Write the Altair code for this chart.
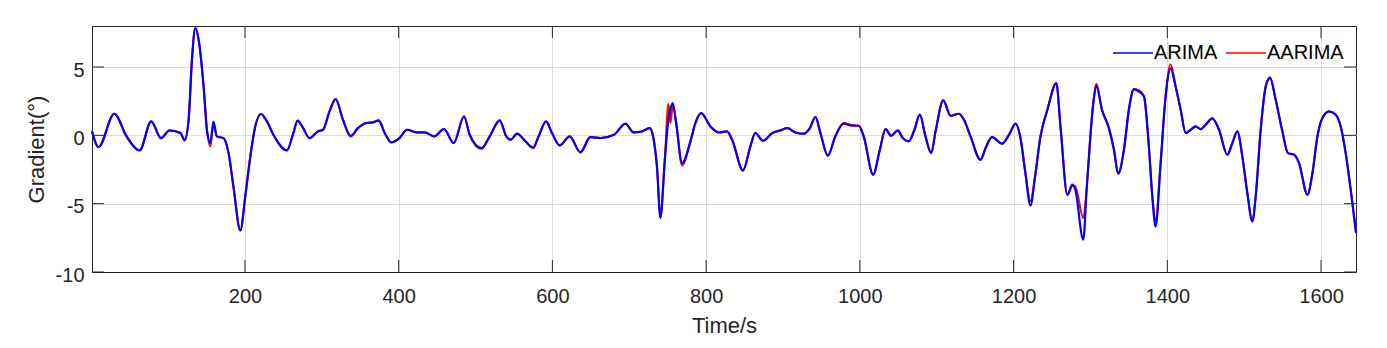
import altair as alt
import pandas as pd

# ---- data ----
time = [1, 9.5, 30, 46, 63, 78, 90.7, 102, 116, 121.5, 126.7, 131, 135.4, 139.7, 146.2, 150.5, 155, 159, 163.5, 172,
        178.7, 185, 194, 200.4, 207, 213.4, 220.8, 228.6, 237, 254.6, 263, 268.5, 275, 284, 295, 301.5, 310, 318, 327.5,
        337.5, 347, 358, 366.6, 374, 381.8, 390.4, 401, 411, 423, 434, 446, 459, 471.6, 485, 492.4, 507.6, 518.4, 531.4,
        540, 545.8, 554, 565, 575, 582, 591.7, 599.5, 609.5, 622.5, 636.4, 649.4, 662.4, 680, 695, 705.8, 716.7, 726.6,
        731, 736, 740.5, 746, 751, 753.5, 756.6, 761, 768.7, 779.6, 786, 793.5, 805.6, 816.5, 827, 833.8, 848, 857.6, 864,
        874, 886, 896.7, 905.4, 916.2, 927, 935, 942.2, 948.7, 958.3, 968, 979, 990, 998.6, 1005, 1017.3, 1026, 1033.4,
        1040.7, 1049.4, 1055, 1063.7, 1071, 1078, 1085.4, 1092.8, 1098.5, 1108.5, 1118, 1129, 1135.4, 1144, 1157, 1163.6,
        1172, 1185, 1194, 1202.6, 1209, 1215, 1222, 1228, 1235, 1244, 1255.6, 1261, 1270, 1276.4, 1280, 1290.7, 1295,
        1300, 1304, 1307.6, 1315, 1324, 1330.6, 1336, 1343.6, 1350, 1356.6, 1363, 1369.6, 1376, 1380.5, 1384.8, 1391.3,
        1397.8, 1404.3, 1410.8, 1417.4, 1423.9, 1430.4, 1436.9, 1443.4, 1449.9, 1458.6, 1467.3, 1478.1, 1484.6, 1491.1,
        1497.6, 1504.1, 1510.7, 1515, 1521.5, 1528, 1533.7, 1541, 1549.7, 1557, 1565, 1571.4, 1582.3, 1588.8, 1595.3,
        1601.8, 1610.5, 1619.1, 1625.6, 1632.1, 1638.6, 1645.5]

arima = [0.3, -0.86, 1.58, -0.08, -1.1, 1.02, -0.2, 0.36, 0.17, -0.32, 1.14, 5.5, 7.85, 7.0, 3.58, 0.41, -0.57, 1.0, -0.08, -0.2,
         -1.3, -3.74, -6.96, -4.47, -1.54, 0.65, 1.56, 1.02, 0.04, -1.1, 0.17, 1.07, 0.6, -0.2, 0.29, 0.41, 1.75, 2.65, 1.14,
         -0.03, 0.53, 0.9, 0.95, 1.09, 0.17, -0.52, -0.2, 0.41, 0.21, 0.21, -0.08, 0.46, -0.57, 1.38, 0.04, -0.93, -0.08, 1.09,
         -0.08, -0.32, 0.12, -0.44, -0.88, -0.08, 1.02, 0.17, -0.74, -0.08, -1.25, -0.13, -0.2, 0.04, 0.85, 0.21, 0.29, 0.53,
         -0.08, -2.27, -6.05, -2.0, 1.2, 1.9, 2.36, 0.9, -2.03, -0.44, 0.9, 1.63, 0.65, 0.21, 0.29, -0.32, -2.57, -0.81, 0.17,
         -0.4, 0.17, 0.36, 0.53, 0.21, 0.12, 0.53, 1.34, 0.17, -1.49, -0.08, 0.85, 0.7, 0.7, -0.08, -2.88, -1.05, 0.46,
         -0.03, 0.36, -0.13, -0.44, 0.41, 1.51, -0.08, -1.3, 0.29, 2.56, 1.43, 1.58, 1.14, -0.08, -1.79, -0.93,
         -0.13, -0.61, 0.04, 0.85, -0.2, -2.6, -5.13, -3.0, -0.08, 1.87, 3.82, 0.65, -4.35, -3.6, -3.9, -7.64, -4.0,
         0.0, 2.5, 3.63, 1.87, 0.53, -1.05, -2.8, -1.05, 1.87, 3.38, 3.2, 2.85, -0.8, -4.47, -6.67, -2.04,
         2.85, 4.9, 3.58, 1.87, 0.17, 0.41, 0.65, 0.46, 0.78, 1.24, 0.41, -1.42, -0.57, 0.29,
         -1.54, -4.22, -6.3, -4.47, 0.41, 3.58, 4.19, 2.6, 0.29, -1.3, -1.42, -2.03, -4.35, -2.77, -0.08,
         1.26, 1.75, 1.51, 0.65, -1.3, -3.98, -7.16]

aarima = [0.3, -0.86, 1.58, -0.08, -1.1, 1.02, -0.2, 0.36, 0.17, -0.4, 1.14, 5.5, 7.85, 7.0, 3.58, 0.41, -0.8, 0.8, -0.08, -0.2,
          -1.3, -3.74, -6.96, -4.47, -1.54, 0.65, 1.56, 1.02, 0.04, -1.1, 0.17, 1.07, 0.6, -0.2, 0.29, 0.41, 1.75, 2.65, 1.14,
          -0.1, 0.53, 0.9, 0.95, 1.09, 0.17, -0.52, -0.2, 0.41, 0.21, 0.21, -0.08, 0.46, -0.57, 1.38, 0.04, -1.0, -0.08, 1.09,
          -0.08, -0.32, 0.12, -0.44, -0.95, -0.08, 1.02, 0.17, -0.74, -0.08, -1.25, -0.13, -0.2, 0.04, 0.85, 0.21, 0.29, 0.53,
          -0.08, -2.27, -5.9, -2.0, 2.31, 0.9, 2.2, 0.9, -2.2, -0.44, 0.9, 1.63, 0.65, 0.21, 0.29, -0.32, -2.57, -0.81, 0.17,
          -0.4, 0.17, 0.36, 0.53, 0.21, 0.12, 0.53, 1.34, 0.17, -1.49, -0.08, 0.9, 0.75, 0.7, -0.08, -2.88, -1.05, 0.46,
          -0.03, 0.36, -0.13, -0.44, 0.41, 1.51, -0.08, -1.3, 0.29, 2.56, 1.43, 1.58, 1.14, -0.08, -1.79, -0.93,
          -0.13, -0.61, 0.04, 0.85, -0.2, -2.6, -4.8, -3.0, -0.08, 1.87, 3.82, 0.65, -4.35, -3.7, -3.7, -6.05, -4.0,
          0.0, 2.5, 3.8, 1.87, 0.53, -1.05, -2.8, -1.05, 1.87, 3.38, 3.3, 2.85, -0.8, -4.47, -6.2, -2.04,
          2.85, 5.2, 3.58, 1.87, 0.17, 0.41, 0.65, 0.46, 0.78, 1.24, 0.41, -1.42, -0.57, 0.29,
          -1.54, -4.22, -6.3, -4.47, 0.41, 3.58, 4.25, 2.6, 0.29, -1.3, -1.42, -2.03, -4.35, -2.77, -0.08,
          1.26, 1.75, 1.51, 0.65, -1.3, -3.98, -7.0]

x_ticks = [200, 400, 600, 800, 1000, 1200, 1400, 1600]
y_ticks = [-10, -5, 0, 5]
series = ["ARIMA", "AARIMA"]
colors = ["#0000ff", "#ff0000"]

df = pd.DataFrame({"t": time, "ARIMA": arima, "AARIMA": aarima})
xt = pd.DataFrame({"t": x_ticks})
yt = pd.DataFrame({"v": y_ticks})

W, H = 1264, 246
FONT = "Liberation Sans"
DARK = "#262626"
TL = 12  # inward tick length

xscale = alt.Scale(domain=[1, 1645.5], nice=False, zero=False)
yscale = alt.Scale(domain=[-10, 8], nice=False, zero=False)
cscale = alt.Scale(domain=series, range=colors)

xaxis = alt.Axis(values=x_ticks, title="Time/s", grid=True, gridColor="#dcdcdc", ticks=False, tickSize=0,
                 domainColor=DARK, labelFont=FONT, labelFontSize=20, labelColor=DARK, labelPadding=14,
                 labelExpr="datum.value + ''",
                 labelFlush=False, titleFont=FONT, titleFontSize=22, titleFontWeight="normal", titleColor=DARK,
                 titleY=60, titleBaseline="alphabetic")
yaxis = alt.Axis(values=y_ticks, title="Gradient(°)", grid=True, gridColor="#dcdcdc", ticks=False, tickSize=0,
                 domainColor=DARK, labelFont=FONT, labelFontSize=20, labelColor=DARK, labelPadding=8,
                 labelOffset=3, labelExpr="datum.value + ''", titleFont=FONT, titleFontSize=22,
                 titleFontWeight="normal", titleColor=DARK, titleX=-49, titleY=H / 2, titleAngle=270,
                 titleAlign="center", titleBaseline="alphabetic")
legend = alt.Legend(title=None, orient="none", legendX=1020, legendY=6, direction="horizontal",
                    symbolType="stroke", symbolSize=1600, symbolStrokeWidth=1.5, labelFont=FONT,
                    labelFontSize=20, labelColor="#000000", labelOffset=0, columnPadding=5, padding=0)

base = alt.Chart(df)
red = base.transform_calculate(s="'AARIMA'").mark_line(interpolate="monotone", strokeWidth=2).encode(
    x=alt.X("t:Q", scale=xscale, axis=xaxis),
    y=alt.Y("AARIMA:Q", scale=yscale, axis=yaxis),
    color=alt.Color("s:N", scale=cscale, legend=legend),
)
blue = base.transform_calculate(s="'ARIMA'").mark_line(interpolate="monotone", strokeWidth=2.2).encode(
    x=alt.X("t:Q", scale=xscale, axis=xaxis),
    y=alt.Y("ARIMA:Q", scale=yscale, axis=yaxis),
    color=alt.Color("s:N", scale=cscale, legend=legend),
)

tick_x_bot = alt.Chart(xt).mark_rule(color=DARK, strokeWidth=1).encode(
    x=alt.X("t:Q", scale=xscale, axis=xaxis), y=alt.value(H), y2=alt.value(H - TL))
tick_x_top = alt.Chart(xt).mark_rule(color=DARK, strokeWidth=1).encode(
    x=alt.X("t:Q", scale=xscale, axis=xaxis), y=alt.value(0), y2=alt.value(TL))
tick_y_left = alt.Chart(yt).mark_rule(color=DARK, strokeWidth=1).encode(
    y=alt.Y("v:Q", scale=yscale, axis=yaxis), x=alt.value(0), x2=alt.value(TL))
tick_y_right = alt.Chart(yt).mark_rule(color=DARK, strokeWidth=1).encode(
    y=alt.Y("v:Q", scale=yscale, axis=yaxis), x=alt.value(W), x2=alt.value(W - TL))

chart = alt.layer(red, blue, tick_x_bot, tick_x_top, tick_y_left, tick_y_right).properties(
    width=W, height=H,
    autosize=alt.AutoSizeParams(type="none"),
    padding={"left": 92, "top": 26, "right": 31, "bottom": 76},
    background="white",
).configure_view(stroke=DARK, strokeWidth=1)

chart.save("out.html", embed_options={"renderer": "svg", "actions": False})
